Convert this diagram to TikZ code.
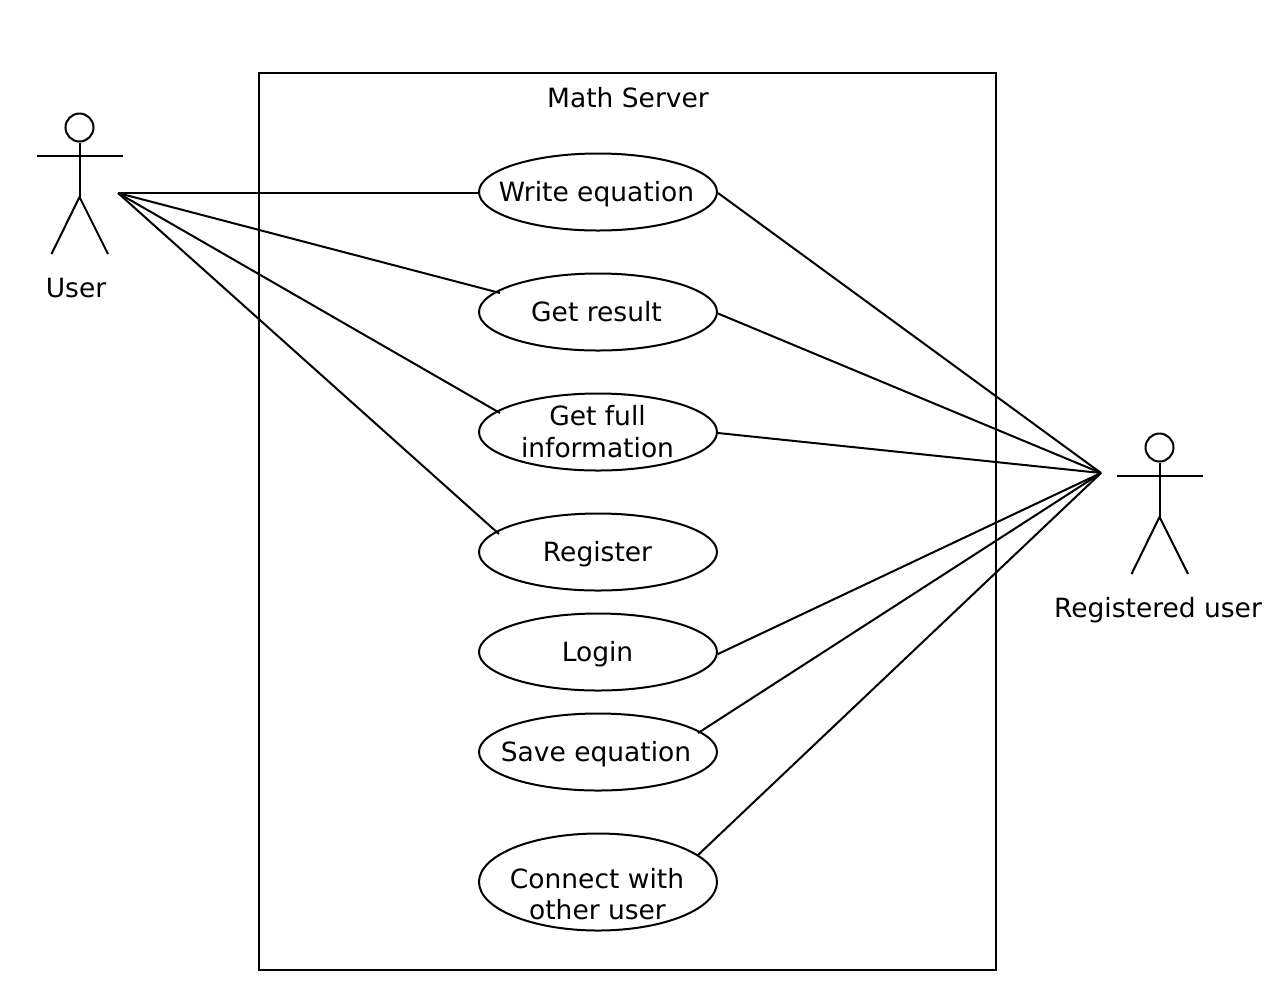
\documentclass[tikz,border=0pt]{standalone}
\usepackage{fontspec}
\setmainfont{DejaVu Sans}
\usetikzlibrary{shapes.geometric}
\tikzset{
  x=1pt,y=-1pt,
  every path/.style={line width=2pt,black},
  uc/.style={draw,ellipse,minimum width=238pt,minimum height=77pt,inner sep=0pt},
  lbl/.style={inner sep=0pt,anchor=base,font=\fontsize{26.5}{32}\selectfont},
  sysbox/.style={draw,minimum width=737pt,minimum height=897pt,inner sep=0pt},
  head/.style={draw,circle,minimum size=28pt,inner sep=0pt},
}
\begin{document}
\begin{tikzpicture}
\useasboundingbox (0,0) rectangle (1276,986);
\node[sysbox] (sys) at (627.8,521.5) {};
\node[lbl] (title) at (628,107) {Math Server};
\node[uc] (e1) at (598,192) {};
\node[uc] (e2) at (598,312) {};
\node[uc] (e3) at (598,432) {};
\node[uc] (e4) at (598,552) {};
\node[uc] (e5) at (598,652) {};
\node[uc] (e6) at (598,752) {};
\node[uc,minimum height=97pt] (e7) at (598,882) {};
\node[lbl] (t1) at (596.5,201) {Write equation};
\node[lbl] (t2) at (596.5,321) {Get result};
\node[lbl] (t3a) at (597.5,425) {Get full};
\node[lbl] (t3b) at (597.5,457) {information};
\node[lbl] (t4) at (597.5,561) {Register};
\node[lbl] (t5) at (597.5,661) {Login};
\node[lbl] (t6) at (596,761) {Save equation};
\node[lbl] (t7a) at (597,888) {Connect with};
\node[lbl] (t7b) at (597.5,919) {other user};
% user actor
\node[head] (h1) at (79.5,127.5) {};
\coordinate (c1) at (79.5,197);
\coordinate (al1) at (37,155.5);
\coordinate (ar1) at (122.5,155.5);
\coordinate (fl1) at (51.5,254);
\coordinate (fr1) at (108,254);
\draw (h1) -- (c1);
\draw (al1) -- (ar1);
\draw (fl1) -- (c1) -- (fr1);
\node[lbl] (u1) at (76,297) {User};
% registered actor
\node[head] (h2) at (1159.5,447.5) {};
\coordinate (c2) at (1159.5,517);
\coordinate (al2) at (1117,475.5);
\coordinate (ar2) at (1202.5,475.5);
\coordinate (fl2) at (1131.5,574);
\coordinate (fr2) at (1188,574);
\draw (h2) -- (c2);
\draw (al2) -- (ar2);
\draw (fl2) -- (c2) -- (fr2);
\node[lbl] (u2) at (1158,617) {Registered user};
% connector ends
\coordinate (A) at (118,193);
\coordinate (B) at (1101,473);
\coordinate (a1) at (480,193);
\coordinate (a2) at (500,293);
\coordinate (a3) at (500,413);
\coordinate (a4) at (499,534);
\coordinate (b1) at (718,193);
\coordinate (b2) at (718,313.5);
\coordinate (b3) at (718,433);
\coordinate (b5) at (718,654);
\coordinate (b6) at (698,733);
\coordinate (b7) at (698,855);
\draw (A) -- (a1);
\draw (A) -- (a2);
\draw (A) -- (a3);
\draw (A) -- (a4);
\draw (b1) -- (B);
\draw (b2) -- (B);
\draw (b3) -- (B);
\draw (b5) -- (B);
\draw (b6) -- (B);
\draw (b7) -- (B);
\end{tikzpicture}
\end{document}
